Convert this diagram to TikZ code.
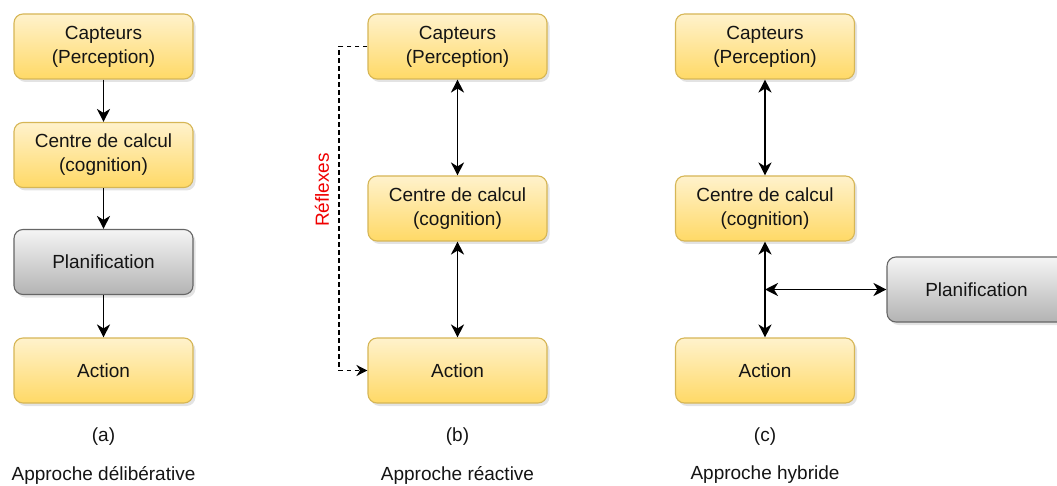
\documentclass[tikz,border=0pt]{standalone}
\usepackage{fontspec}
\setmainfont{Liberation Sans}
\usetikzlibrary{arrows.meta,shadows}
\definecolor{ytop}{HTML}{FFF2CC}
\definecolor{ybot}{HTML}{FFD966}
\definecolor{yline}{HTML}{D6B656}
\definecolor{gtop}{HTML}{F5F5F5}
\definecolor{gbot}{HTML}{B3B3B3}
\definecolor{gline}{HTML}{666666}
\definecolor{reflex}{HTML}{F00000}
\definecolor{ink}{HTML}{141414}

\begin{document}
\begin{tikzpicture}[x=1pt,y=-1pt,
  txt/.style={font=\fontsize{19}{24}\selectfont, text=ink},
  boxbase/.style={txt, rounded corners=9pt, minimum width=179pt, minimum height=65pt,
    align=center, line width=1.1pt,
    drop shadow={shadow xshift=2.5pt, shadow yshift=-3pt, opacity=0.22}},
  ybox/.style={boxbase, draw=yline, top color=ytop, bottom color=ybot},
  gbox/.style={boxbase, draw=gline, top color=gtop, bottom color=gbot},
  tip/.tip={Stealth[length=13pt,width=13pt,inset=4pt]},
  smalltip/.tip={Stealth[length=11pt,width=11pt,inset=3.5pt]},
  link/.style={line width=1.8pt, draw=black, -tip},
  bilink/.style={line width=1.8pt, draw=black, tip-tip},
  reflexlink/.style={line width=1.2pt, draw=black, dash pattern=on 4.5pt off 3.5pt, -smalltip},
]
\clip (0,0) rectangle (1057,486);

% (a) deliberative approach
\node[ybox] (acap) at (103.5,46.5) {Capteurs\\(Perception)};
\node[ybox] (acen) at (103.5,155) {Centre de calcul\\(cognition)};
\node[gbox] (apla) at (103.5,262) {Planification};
\node[ybox] (aact) at (103.5,370.5) {Action};
\node[txt] (alab) at (103.5,437) {(a)};
\node[txt] (aname) at (103.5,475) {Approche délibérative};
\draw[link] (acap) -- (acen);
\draw[link] (acen) -- (apla);
\draw[link] (apla) -- (aact);

% (b) reactive approach
\node[ybox] (bcap) at (457.5,46.5) {Capteurs\\(Perception)};
\node[ybox] (bcen) at (457.5,208.5) {Centre de calcul\\(cognition)};
\node[ybox] (bact) at (457.5,370.5) {Action};
\node[txt] (blab) at (457.5,437) {(b)};
\node[txt] (bname) at (457.5,475) {Approche réactive};
\draw[bilink] (bcap) -- (bcen);
\draw[bilink] (bcen) -- (bact);
\coordinate (bturn) at (339,46.5);
\draw[reflexlink] (bcap.west) -- (bturn) |- (bact.west);
\node[txt, text=reflex, rotate=90] (reflex) at (322,190) {Réflexes};

% (c) hybrid approach
\node[ybox] (ccap) at (765,46.5) {Capteurs\\(Perception)};
\node[ybox] (ccen) at (765,208.5) {Centre de calcul\\(cognition)};
\node[ybox] (cact) at (765,370.5) {Action};
\node[gbox] (cpla) at (976.5,289.5) {Planification};
\node[txt] (clab) at (765,437) {(c)};
\node[txt] (cname) at (765,475) {Approche hybride};
\draw[bilink] (ccap) -- (ccen);
\draw[bilink] (ccen) -- (cact);
\coordinate (cjoin) at (ccen.south |- cpla.west);
\draw[bilink] (cjoin) -- (cpla.west);
\end{tikzpicture}
\end{document}
